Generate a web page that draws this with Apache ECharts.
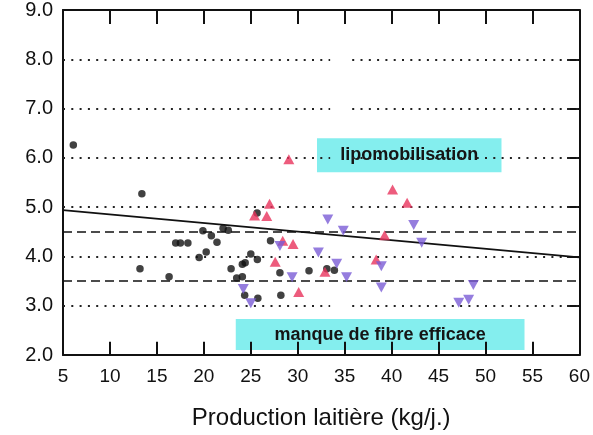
<!DOCTYPE html>
<html>
<head>
<meta charset="utf-8">
<script src="https://cdn.jsdelivr.net/npm/echarts@6/dist/echarts.min.js"></script>
<style>
html,body{margin:0;padding:0;background:#fff;}
#chart{width:593px;height:435px;}
</style>
</head>
<body>
<div id="chart"></div>
<script>
// ---- data ----
const xTicks = [5,10,15,20,25,30,35,40,45,50,55,60];
const yTicks = [2,3,4,5,6,7,8,9];
const xTitle = 'Production laitière (kg/j.)';
const blackDots = [[6.1,6.26],[13.4,5.27],[13.2,3.75],[16.3,3.59],[17.0,4.27],[17.5,4.27],[18.3,4.27],
  [19.5,3.98],[19.9,4.52],[20.25,4.09],[20.8,4.42],[21.4,4.29],[22.05,4.57],[22.6,4.53],[22.9,3.75],
  [23.5,3.56],[24.1,3.59],[24.1,3.84],[24.4,3.87],[24.35,3.21],[25.0,4.05],[25.7,3.94],[25.75,3.15],
  [25.67,4.88],[27.1,4.32],[28.1,3.67],[28.2,3.21],[31.2,3.71],[33.1,3.75],[33.9,3.72]];
const redUp = [[29.05,5.97],[27.0,5.07],[25.4,4.83],[26.7,4.82],[28.4,4.32],[29.5,4.25],[27.6,3.89],
  [30.1,3.28],[32.9,3.69],[38.35,3.94],[39.25,4.43],[40.1,5.36],[41.65,5.09]];
const purpleDown = [[28.1,4.21],[29.4,3.58],[24.2,3.34],[25.0,3.05],[33.2,4.75],[34.85,4.52],[32.2,4.08],
  [34.15,3.85],[35.2,3.58],[38.9,3.8],[38.9,3.37],[42.35,4.64],[43.2,4.28],[47.15,3.06],[48.2,3.12],[48.7,3.42]];
const regression = [[5,4.94],[60,3.98]];
const dottedLevels = [3,4,5,6,7,8];
const dottedGap = [33.45,35.8];
const dashedLevels = [3.5,4.5];
const boxLipo = {label:'lipomobilisation', x:[32.05,51.7], y:[5.71,6.4]};
const boxFibre = {label:'manque de fibre efficace', x:[23.4,54.15], y:[2.1,2.73]};

// ---- chart ----
const FONT = 'Liberation Sans, Arial, sans-serif';
const xMin = xTicks[0], xMax = xTicks[xTicks.length-1];
const yMin = yTicks[0], yMax = yTicks[yTicks.length-1];

const markSegs = [];
dottedLevels.forEach(v => {
  markSegs.push([{coord:[xMin,v], lineStyle:{type:[2,6.3], width:2, color:'#222'}},{coord:[dottedGap[0],v]}]);
  markSegs.push([{coord:[dottedGap[1],v], lineStyle:{type:[2,6.3], width:2, color:'#222'}},{coord:[xMax,v]}]);
});
dashedLevels.forEach(v => {
  markSegs.push([{coord:[xMin,v], lineStyle:{type:[9,5], width:1.6, color:'#111'}},{coord:[xMax,v]}]);
});
markSegs.push([{coord:regression[0].slice(), lineStyle:{type:'solid', width:1.6, color:'#111'}},{coord:regression[1].slice()}]);

// inward frame ticks at the axis tick values (lengths in data units, about 13px)
const tickLines = [];
xTicks.slice(1, -1).forEach(v => {
  tickLines.push({coords:[[v, yMin], [v, yMin + 0.27]]});
  tickLines.push({coords:[[v, yMax], [v, yMax - 0.28]]});
});
yTicks.slice(1, -1).forEach(v => {
  tickLines.push({coords:[[xMax, v], [xMax - 1.3, v]]});
});

const axisLineStyle = {color:'#111', width:2};
const tl = {color:'#111', width:2};
const option = {
  animation:false,
  grid:{left:63, right:13, top:10, bottom:80},
  xAxis:[{
    type:'value', min:xMin, max:xMax, interval:5, position:'bottom',
    axisLine:{show:true, onZero:false, lineStyle:axisLineStyle},
    axisTick:{show:true, inside:true, length:13, lineStyle:tl},
    axisLabel:{fontFamily:FONT, fontSize:19, color:'#111', margin:12},
    splitLine:{show:false},
    name:xTitle, nameLocation:'middle', nameGap:51,
    nameTextStyle:{fontFamily:FONT, fontSize:24, color:'#111'}
  },{
    type:'value', min:xMin, max:xMax, interval:5, position:'top',
    axisLine:{show:true, onZero:false, lineStyle:axisLineStyle},
    axisTick:{show:true, inside:true, length:14, lineStyle:tl},
    axisLabel:{show:false}, splitLine:{show:false}
  }],
  yAxis:[{
    type:'value', min:yMin, max:yMax, interval:1, position:'left',
    axisLine:{show:true, onZero:false, lineStyle:axisLineStyle},
    axisTick:{show:false},
    axisLabel:{fontFamily:FONT, fontSize:20, color:'#111', margin:10, formatter:v=>v.toFixed(1)},
    splitLine:{show:false}
  },{
    type:'value', min:yMin, max:yMax, interval:1, position:'right',
    axisLine:{show:true, onZero:false, lineStyle:axisLineStyle},
    axisTick:{show:true, inside:true, length:12, lineStyle:tl},
    axisLabel:{show:false}, splitLine:{show:false}
  }],
  series:[
    {type:'scatter', data:[], z:1, silent:true,
      markLine:{silent:true, symbol:['none','none'], label:{show:false}, data:markSegs}},
    {type:'lines', coordinateSystem:'cartesian2d', xAxisIndex:0, yAxisIndex:0, z:2, silent:true,
      polyline:false, symbol:['none','none'], effect:{show:false},
      lineStyle:{type:'solid', width:2, color:'#111', opacity:1, curveness:0}, data:tickLines},
    {type:'scatter', data:[], z:3, silent:true,
      markArea:{silent:true, itemStyle:{color:'#84eeee'},
        label:{show:true, position:'inside', fontFamily:FONT, fontWeight:'bold', fontSize:18, color:'#151515'},
        data:[
          [{name:boxLipo.label, coord:[boxLipo.x[0], boxLipo.y[1]]},{coord:[boxLipo.x[1], boxLipo.y[0]]}],
          [{name:boxFibre.label, coord:[boxFibre.x[0], boxFibre.y[1]]},{coord:[boxFibre.x[1], boxFibre.y[0]]}]
        ]}},
    {type:'scatter', data:blackDots, z:5, symbol:'circle', symbolSize:7.5, itemStyle:{color:'#111'}},
    {type:'scatter', data:redUp, z:5, symbol:'triangle', symbolSize:[11,10], itemStyle:{color:'#e8335c'}},
    {type:'scatter', data:purpleDown, z:5, symbol:'path://M0,0L10,0L5,9Z', symbolSize:[11,10], itemStyle:{color:'#7b5cd6'}}
  ]
};
echarts.init(document.getElementById('chart')).setOption(option);
</script>
</body>
</html>
